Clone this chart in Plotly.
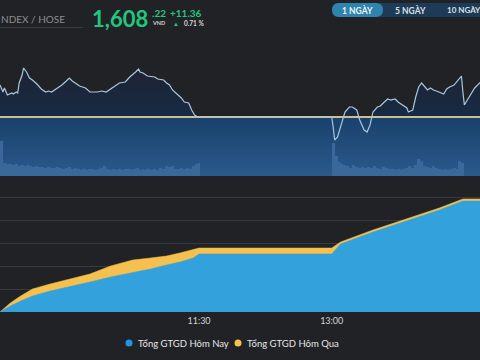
import plotly.graph_objects as go
import pandas as pd

W, H = 480, 360
def px(x):
    return x / W
def py(y):
    return 1 - y / H

DAY = "2025-08-05 "
X_START, X_END = DAY + "09:15", DAY + "14:40:36"

# ---------------- data ----------------
REF_PRICE = 1596.86
LAST_PRICE = "1,608"
LAST_DEC = ".22"
CHANGE = "+11.36"
CHANGE_PCT = "0.71 %"

price_times = ["09:15", "09:17", "09:18", "09:20", "09:23", "09:24", "09:26", "09:27", "09:28", "09:30",
               "09:31", "09:33", "09:35", "09:37", "09:40", "09:43", "09:46", "09:48", "09:50", "09:52",
               "09:54", "09:57", "10:00", "10:02", "10:04", "10:06", "10:09", "10:13", "10:16", "10:21",
               "10:24", "10:27", "10:30", "10:33", "10:36", "10:40", "10:43", "10:47", "10:49", "10:50",
               "10:52", "10:55", "10:58", "11:00", "11:02", "11:06", "11:08", "11:10", "11:12", "11:16",
               "11:18", "11:20", "11:23", "11:25", "11:27", "11:29", "11:30",
               "13:00", "13:01", "13:02", "13:04", "13:06", "13:08", "13:09", "13:12", "13:14", "13:17",
               "13:19", "13:22", "13:24", "13:26", "13:28", "13:31", "13:33", "13:35", "13:37", "13:38",
               "13:40", "13:43", "13:45", "13:48", "13:51", "13:52", "13:55", "13:57", "13:59", "14:01",
               "14:03", "14:05", "14:07", "14:09", "14:11", "14:14", "14:16", "14:18", "14:20", "14:23",
               "14:25", "14:28", "14:29", "14:30", "14:32", "14:35", "14:37", "14:41"]
price_values = [1606.95, 1604.75, 1606.01, 1603.80, 1604.43, 1604.12, 1604.75, 1604.43, 1607.59, 1610.11,
                1612.32, 1611.06, 1609.16, 1608.53, 1607.27, 1605.69, 1604.75, 1605.06, 1604.75, 1605.38,
                1606.01, 1606.95, 1608.22, 1609.16, 1608.22, 1607.59, 1606.64, 1606.01, 1604.75, 1604.75,
                1605.06, 1604.75, 1605.69, 1606.64, 1607.59, 1607.90, 1609.48, 1611.06, 1612.00, 1611.06,
                1610.74, 1609.79, 1609.48, 1609.48, 1608.85, 1608.53, 1607.59, 1606.95, 1605.38, 1603.80,
                1602.85, 1601.59, 1601.28, 1599.07, 1597.49, 1596.86, 1596.86,
                1596.86, 1593.71, 1589.60, 1590.55, 1593.71, 1597.49, 1598.44, 1600.01, 1600.01, 1599.07,
                1595.91, 1592.76, 1592.13, 1594.34, 1598.44, 1600.01, 1600.33, 1601.28, 1602.22, 1602.54,
                1602.22, 1602.54, 1601.59, 1600.65, 1599.70, 1598.44, 1599.07, 1603.17, 1606.32, 1607.59,
                1606.64, 1605.38, 1606.01, 1605.38, 1605.06, 1604.43, 1604.12, 1605.69, 1606.32, 1606.95,
                1608.22, 1609.79, 1604.75, 1600.65, 1602.22, 1604.43, 1606.01, 1607.90]

# 2-minute volume bars (million shares)
vol_am = [35, 13, 12, 12, 11, 12, 10, 11, 10, 11, 10, 9, 10, 9, 9, 8, 9, 8, 8, 9,
          8, 7, 8, 9, 7, 8, 7, 6, 7, 6, 7, 7, 6, 7, 8, 10, 7, 6, 7, 6,
          7, 6, 7, 7, 6, 7, 8, 6, 7, 6, 7, 6, 7, 6, 8, 7, 10, 9, 10, 7,
          7, 8, 7, 8, 7, 10, 12, 13]
vol_pm = [33, 20, 14, 12, 11, 10, 8, 11, 9, 8, 9, 8, 9, 8, 10, 8, 7, 9, 8, 7,
          7, 6, 7, 6, 7, 8, 10, 8, 11, 17, 15, 10, 9, 8, 10, 8, 7, 6, 7, 6,
          7, 8, 7, 15, 13]

# cumulative traded value (billion VND)
cum_times = ["09:15", "09:22", "09:29", "09:37", "09:49", "10:00", "10:16", "10:30", "10:45", "10:57",
             "11:08", "11:17", "11:26", "11:28", "11:30", "13:00", "13:06", "13:28", "13:51", "14:13",
             "14:29", "14:41"]
today_value = [0, 1300, 2390, 3480, 4570, 5430, 6520, 7600, 8480, 9350,
               10220, 10870, 11740, 12170, 12610, 12610, 14780, 17390, 19780, 22170,
               24130, 24130]
yesterday_value = [0, 1960, 3480, 5000, 6090, 6960, 8260, 10000, 11300, 11740,
                   12170, 12830, 13480, 13700, 13910, 13910, 15220, 17830, 20220, 22610,
                   24570, 24570]
value_grid = [5000, 10000, 15000, 20000, 25000]
time_ticks = ["11:30", "13:00"]

NAME_TODAY = "Tổng GTGD Hôm Nay"
NAME_YEST = "Tổng GTGD Hôm Qua"

# ---------------- scales ----------------
PX_PER_PT = 3.17
REF_PX, TOP_PX, BOT_PX = 117, 30, 176
y_min = REF_PRICE - (BOT_PX - REF_PX) / PX_PER_PT
y_max = REF_PRICE + (REF_PX - TOP_PX) / PX_PER_PT
p_hi = max(price_values)
ref_frac = (REF_PRICE - y_min) / (p_hi - y_min)

FONT = "Lato"
BG = "#212226"
GREEN = "#22c77f"
BLUE = "#33a2dc"
YELLOW = "#f6c04f"

pt = [DAY + t for t in price_times]
ct = [DAY + t for t in cum_times]
vt_am = pd.date_range(DAY + "09:16", periods=len(vol_am), freq="2min")
vt_pm = pd.date_range(DAY + "13:01", periods=len(vol_pm), freq="2min")
edge = [X_START, DAY + "14:41"]

fig = go.Figure()

# blue band below reference line
fig.add_trace(go.Scatter(x=edge, y=[y_min, y_min], mode="lines", line=dict(width=0),
                         showlegend=False, hoverinfo="skip"))
fig.add_trace(go.Scatter(x=edge, y=[REF_PRICE, REF_PRICE], mode="lines", line=dict(width=0),
                         fill="tonexty",
                         fillgradient=dict(type="vertical", start=y_min, stop=REF_PRICE,
                                           colorscale=[[0, "#2a5a8c"], [1, "#1a406b"]]),
                         showlegend=False, hoverinfo="skip"))
# price area
fig.add_trace(go.Scatter(x=edge, y=[y_min, y_min], mode="lines", line=dict(width=0),
                         showlegend=False, hoverinfo="skip"))
fig.add_trace(go.Scatter(x=pt, y=price_values, mode="lines", line=dict(width=0),
                         fill="tonexty",
                         fillgradient=dict(type="vertical", start=y_min, stop=p_hi,
                                           colorscale=[[0, "#2a5a8c"], [ref_frac, "#1a406b"],
                                                       [ref_frac + 0.0005, "#172a45"], [1, "#1f2332"]]),
                         showlegend=False, hoverinfo="skip"))
# reference line
fig.add_trace(go.Scatter(x=edge, y=[REF_PRICE, REF_PRICE], mode="lines",
                         line=dict(color="#cdbf8f", width=1.8), showlegend=False, hoverinfo="skip"))
# price line
fig.add_trace(go.Scatter(x=pt, y=price_values, mode="lines",
                         line=dict(color="#a7c7df", width=1.2), showlegend=False, hoverinfo="skip"))
# volume
fig.add_trace(go.Bar(x=list(vt_am) + list(vt_pm), y=vol_am + vol_pm, xaxis="x", yaxis="y3",
                     width=120000, marker=dict(color="#3a689a", line=dict(width=0)),
                     showlegend=False, hoverinfo="skip"))

# cumulative traded value
fig.add_trace(go.Scatter(x=ct, y=yesterday_value, xaxis="x2", yaxis="y2", mode="lines",
                         line=dict(color=YELLOW, width=0.5), fill="tozeroy", fillcolor=YELLOW,
                         name=NAME_YEST, showlegend=False))
fig.add_trace(go.Scatter(x=ct, y=today_value, xaxis="x2", yaxis="y2", mode="lines",
                         line=dict(color=BLUE, width=0.5), fill="tozeroy", fillcolor=BLUE,
                         name=NAME_TODAY, showlegend=False))

# ---------------- layout ----------------
def pill_path(x0, x1, y0, y1, right=True):
    r = (y1 - y0) / 2
    X = lambda v: f"{px(v):.5f}"
    Y = lambda v: f"{py(v):.5f}"
    ym = (y0 + y1) / 2
    p = f"M {X(x0 + r)},{Y(y0)} L {X(x1 - r if right else x1)},{Y(y0)} "
    if right:
        p += f"Q {X(x1)},{Y(y0)} {X(x1)},{Y(ym)} Q {X(x1)},{Y(y1)} {X(x1 - r)},{Y(y1)} "
    else:
        p += f"L {X(x1)},{Y(y1)} "
    p += f"L {X(x0 + r)},{Y(y1)} Q {X(x0)},{Y(y1)} {X(x0)},{Y(ym)} Q {X(x0)},{Y(y0)} {X(x0 + r)},{Y(y0)} Z"
    return p

shapes = [
    dict(type="line", xref="paper", yref="paper", x0=0, x1=px(83), y0=py(27.5), y1=py(27.5),
         line=dict(color="#3b3c42", width=1)),
    dict(type="path", xref="paper", yref="paper", path=pill_path(332, 482, 3, 17, right=False),
         fillcolor="#1d3b56", line=dict(width=0)),
    dict(type="path", xref="paper", yref="paper", path=pill_path(332, 383, 3, 17),
         fillcolor="#2e84ad", line=dict(width=0)),
    dict(type="circle", xref="paper", yref="paper", x0=px(125.5), x1=px(132.5), y0=py(346.5), y1=py(339.5),
         fillcolor="#2196e6", line=dict(width=0)),
    dict(type="circle", xref="paper", yref="paper", x0=px(234.5), x1=px(241.5), y0=py(346.5), y1=py(339.5),
         fillcolor=YELLOW, line=dict(width=0)),
]

def ann(text, x, y, size, color, xanchor="left", bold=False):
    return dict(text=f"<b>{text}</b>" if bold else text, x=px(x), y=py(y), xref="paper", yref="paper",
                xanchor=xanchor, yanchor="middle", showarrow=False,
                font=dict(family=FONT, size=size, color=color))

annotations = [
    ann("NDEX / HOSE", -1, 19, 10, "#8b8e94"),
    ann(LAST_PRICE, 90, 18.5, 22, GREEN, bold=True),
    ann(LAST_DEC, 150, 13, 10, GREEN, bold=True),
    ann("VND", 150, 23.5, 5.5, "#d0d0d0", bold=True),
    ann(CHANGE, 168, 13.5, 10, GREEN, bold=True),
    ann("▲", 171, 23.5, 6, GREEN),
    ann(CHANGE_PCT, 182, 23.5, 6.5, "#d8d8d8", bold=True),
    ann("1 NGÀY", 357.5, 10, 8.5, "#eef4f8", xanchor="center", bold=True),
    ann("5 NGÀY", 410, 10, 8.5, "#d8e0e6", xanchor="center", bold=True),
    ann("10 NGÀY", 445, 10, 8, "#d8e0e6", bold=True),
    ann(NAME_TODAY, 135.5, 343, 9.5, "#e6e6e6"),
    ann(NAME_YEST, 244.5, 343, 9.5, "#e6e6e6"),
]

fig.update_layout(
    width=W, height=H, margin=dict(l=0, r=0, t=0, b=0),
    paper_bgcolor=BG, plot_bgcolor=BG, showlegend=False, hovermode=False,
    barmode="overlay", bargap=0,
    font=dict(family=FONT, color="#d8d8d8"),
    xaxis=dict(domain=[0, 1], anchor="y", range=[X_START, X_END], type="date",
               showgrid=False, zeroline=False, showticklabels=False, fixedrange=True),
    yaxis=dict(domain=[py(BOT_PX), py(TOP_PX)], range=[y_min, y_max],
               showgrid=False, zeroline=False, showticklabels=False),
    yaxis3=dict(overlaying="y", range=[0, 146], visible=False),
    xaxis2=dict(domain=[0, 1], anchor="y2", range=[X_START, X_END], type="date",
                tickvals=[DAY + t for t in time_ticks], ticktext=time_ticks,
                tickfont=dict(family=FONT, size=9, color="#d4d4d4"), ticklabelstandoff=2,
                showgrid=False, zeroline=False, showline=False, ticks=""),
    yaxis2=dict(domain=[py(312), py(180)], range=[0, 132 * 5000 / 23],
                tickvals=value_grid, showticklabels=False, showgrid=True,
                gridcolor="#393a40", gridwidth=1, zeroline=False),
    shapes=shapes, annotations=annotations,
)

fig.write_html("out.html", config={"displayModeBar": False},
               post_script="document.body.style.margin='0';document.body.style.background='#212226';")
